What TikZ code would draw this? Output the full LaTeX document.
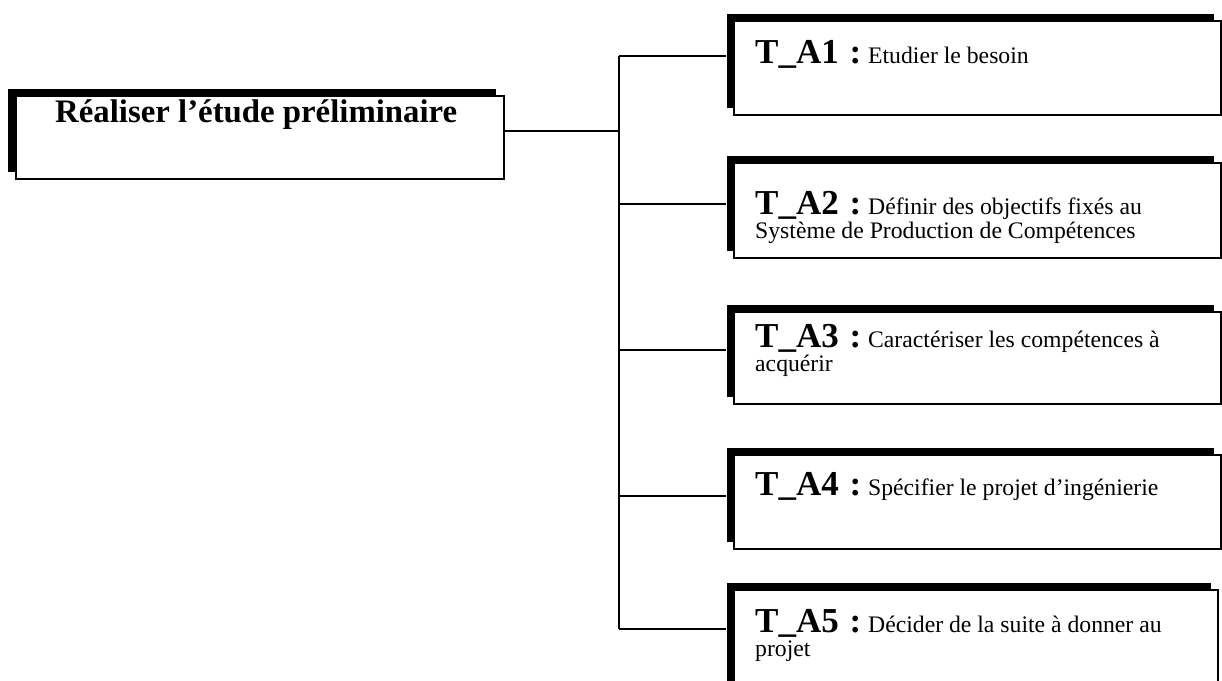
\documentclass[tikz,border=0pt]{standalone}
\usepackage{fontspec}
\setmainfont{Liberation Serif}
\usetikzlibrary{shadows}
\newcommand{\tlab}[1]{{\fontsize{35}{35}\selectfont\bfseries T\_A#1\ \hspace{2pt}:}\ \hspace{1pt}}
\begin{document}
\begin{tikzpicture}[x=1pt,y=-1pt,
  taskbox/.style={draw=black, line width=2.2pt, fill=white, inner sep=0pt,
    anchor=north west, minimum width=487pt,
    general shadow={fill=black, shadow xshift=-7pt, shadow yshift=7pt}},
  mainbox/.style={draw=black, line width=2.2pt, fill=white, inner sep=0pt,
    anchor=north west, minimum width=488pt, minimum height=83pt,
    general shadow={fill=black, shadow xshift=-8pt, shadow yshift=7pt}},
  conn/.style={draw=black, line width=2.2pt},
  lbl/.style={anchor=base west, inner sep=0pt, align=left,
    font=\fontsize{23.7}{24}\selectfont},
  mainlbl/.style={anchor=base west, inner sep=0pt,
    font=\fontsize{32.8}{33}\selectfont\bfseries}
]
\clip (0,0) rectangle (1222,680);
\fill[white] (0,0) rectangle (1222,680);

% junction coordinates on the bus
\coordinate (j0) at (619,131);
\coordinate (j1) at (619,56);
\coordinate (j2) at (619,204);
\coordinate (j3) at (619,350);
\coordinate (j4) at (619,496);
\coordinate (j5) at (619,629);

% boxes
\node[mainbox] (main) at (15,95) {};
\node[taskbox, minimum height=94pt] (b1) at (733,20) {};
\node[taskbox, minimum height=95pt] (b2) at (733,162) {};
\node[taskbox, minimum height=92pt] (b3) at (733,311) {};
\node[taskbox, minimum height=94pt] (b4) at (733,454) {};
\node[taskbox, minimum height=111pt, minimum width=484pt] (b5) at (733,589) {};

% connectors
\draw[conn] (main.east |- j0) -- (j0);
\draw[conn] (j1) -- (j5);
\draw[conn] (j1) -- ([xshift=-7pt]b1.west |- j1);
\draw[conn] (j2) -- ([xshift=-7pt]b2.west |- j2);
\draw[conn] (j3) -- ([xshift=-7pt]b3.west |- j3);
\draw[conn] (j4) -- ([xshift=-7pt]b4.west |- j4);
\draw[conn] (j5) -- ([xshift=-7pt]b5.west |- j5);

% texts
\node[mainlbl] (tm) at (55,122) {Réaliser l’étude préliminaire};
\node[lbl] (t1) at (755,63.5) {\tlab{1}Etudier le besoin};
\node[lbl] (t2) at (755,238) {\tlab{2}Définir des objectifs fixés au\\Système de Production de Compétences};
\node[lbl] (t3) at (755,371) {\tlab{3}Caractériser les compétences à\\acquérir};
\node[lbl] (t4) at (755,495) {\tlab{4}Spécifier le projet d’ingénierie};
\node[lbl] (t5) at (755,656) {\tlab{5}Décider de la suite à donner au\\projet};
\end{tikzpicture}
\end{document}
